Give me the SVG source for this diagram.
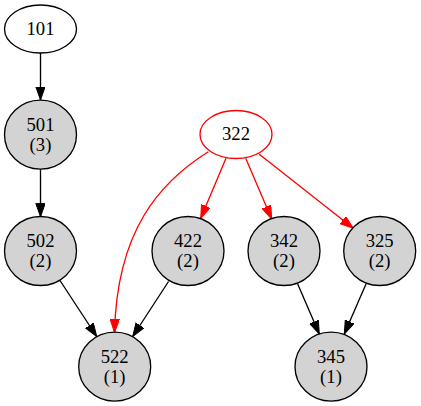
<svg xmlns="http://www.w3.org/2000/svg" width="421" height="406" viewBox="0 0 421 406">
<defs>
<marker id="ab" markerWidth="14" markerHeight="10" refX="13.3" refY="4.7" orient="auto" markerUnits="userSpaceOnUse"><path d="M0,0 L13.3,4.7 L0,9.4 Z" fill="#000" stroke="#000" stroke-width="1"/></marker>
<marker id="ar" markerWidth="14" markerHeight="10" refX="13.3" refY="4.7" orient="auto" markerUnits="userSpaceOnUse"><path d="M0,0 L13.3,4.7 L0,9.4 Z" fill="#f00" stroke="#f00" stroke-width="1"/></marker>
</defs>
<style>
text{font-family:"Liberation Serif","Times New Roman",serif;font-size:18.67px;text-anchor:middle;fill:#000}
.g ellipse{fill:#d3d3d3;stroke:#000;stroke-width:1.33}
.w ellipse{fill:#fff;stroke:#000;stroke-width:1.33}
.r ellipse{fill:#fff;stroke:#f00;stroke-width:1.33}
.e path{fill:none;stroke-width:1.33}
.k{stroke:#000;marker-end:url(#ab)}
.rd{stroke:#f00;marker-end:url(#ar)}
</style>
<rect width="421" height="406" fill="#fff"/>
<g id="edges" class="e">
<path class="k" d="M40.5,53 L40.5,100"/>
<path class="k" d="M40.5,169 L40.5,216.7"/>
<path class="k" d="M60,280.5 L96.7,336.5"/>
<path class="k" d="M168.5,281.5 L132.7,336.5"/>
<path class="rd" d="M208.3,151.7 C160,182 117,230 114.5,332.5"/>
<path class="rd" d="M226,158.3 L200.7,218.3"/>
<path class="rd" d="M245.7,158.3 L271.7,219"/>
<path class="rd" d="M259,154 L353.3,228.3"/>
<path class="k" d="M297.7,284 L319.3,334"/>
<path class="k" d="M366,284 L344.3,334"/>
</g>
<g id="n101" class="w"><ellipse cx="40.5" cy="29" rx="36" ry="24"/><text x="40.5" y="34.5">101</text></g>
<g id="n501" class="g"><ellipse cx="40.5" cy="134.7" rx="36" ry="34.5"/><text x="40.5" y="130.7">501</text><text x="40.5" y="150.7">(3)</text></g>
<g id="n502" class="g"><ellipse cx="40.5" cy="251" rx="36" ry="34.5"/><text x="40.5" y="247">502</text><text x="40.5" y="267">(2)</text></g>
<g id="n522" class="g"><ellipse cx="114.7" cy="366.7" rx="36" ry="34.5"/><text x="114.7" y="362.7">522</text><text x="114.7" y="382.7">(1)</text></g>
<g id="n322" class="r"><ellipse cx="236" cy="134.5" rx="36" ry="24"/><text x="236" y="140">322</text></g>
<g id="n422" class="g"><ellipse cx="188" cy="251" rx="36" ry="34.5"/><text x="188" y="247">422</text><text x="188" y="267">(2)</text></g>
<g id="n342" class="g"><ellipse cx="284" cy="251" rx="36" ry="34.5"/><text x="284" y="247">342</text><text x="284" y="267">(2)</text></g>
<g id="n325" class="g"><ellipse cx="379.7" cy="251" rx="36" ry="34.5"/><text x="379.7" y="247">325</text><text x="379.7" y="267">(2)</text></g>
<g id="n345" class="g"><ellipse cx="331" cy="366.7" rx="36" ry="34.5"/><text x="331" y="362.7">345</text><text x="331" y="382.7">(1)</text></g>
</svg>
